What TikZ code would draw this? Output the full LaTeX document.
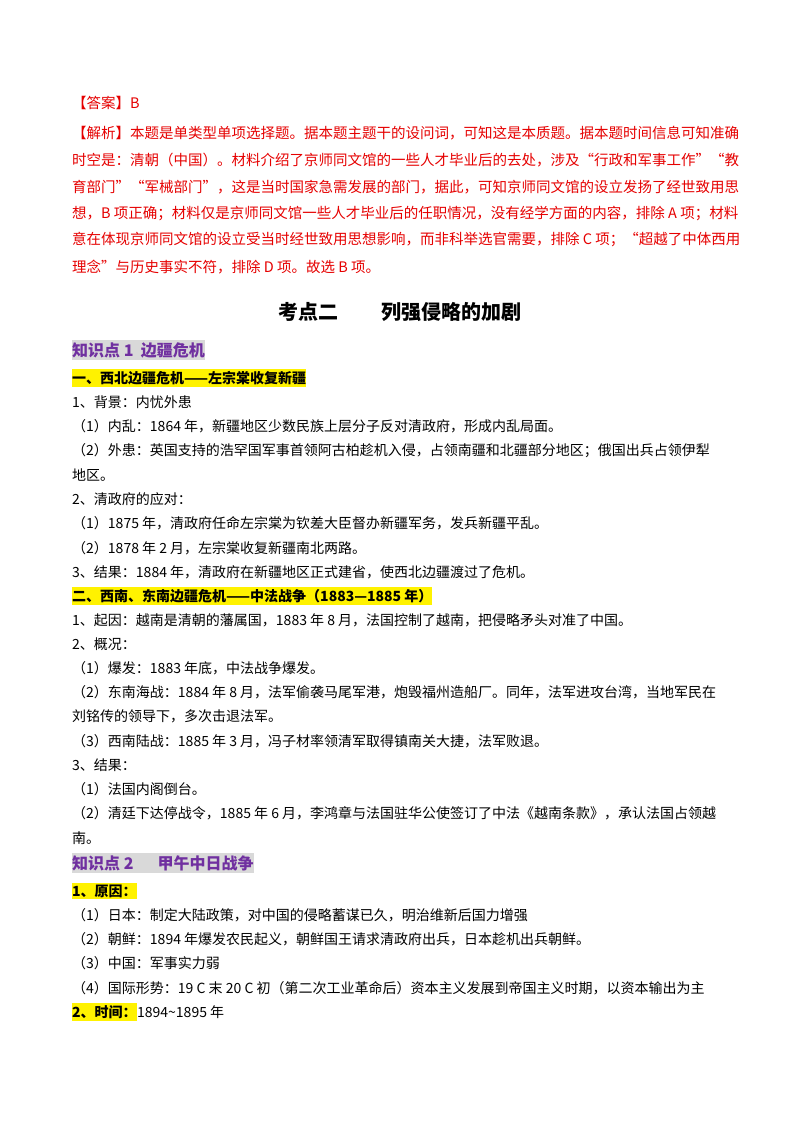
\documentclass[tikz,border=0pt]{standalone}
\usepackage{fontspec}
\setmainfont{Noto Sans CJK SC}
\definecolor{ansred}{RGB}{230,0,0}
\definecolor{kpurple}{RGB}{112,48,160}
\definecolor{kgray}{RGB}{217,217,217}
\begin{document}
\begin{tikzpicture}[x=1pt,y=-1pt,
  ln/.style={anchor=west,inner sep=0pt,font=\fontsize{14}{14}\selectfont},
  red/.style={ln,text=ansred,font=\fontsize{14.5}{14.5}\selectfont},
  yel/.style={ln,fill=yellow,inner ysep=2pt,font=\fontsize{14}{14}\selectfont\bfseries},
  kp/.style={ln,fill=kgray,text=kpurple,inner ysep=2pt,font=\fontsize{16}{16}\selectfont\bfseries}]
\useasboundingbox[fill=white] (0,0) rectangle (800,1132);
\node[red] (a0) at (72,103) {【答案】B};
\node[red] (a1) at (72,133) {【解析】本题是单类型单项选择题。据本题主题干的设问词，可知这是本质题。据本题时间信息可知准确};
\node[red] (a2) at (72,160) {时空是：清朝（中国）。材料介绍了京师同文馆的一些人才毕业后的去处，涉及“行政和军事工作”“教};
\node[red] (a3) at (72,187) {育部门”“军械部门”，这是当时国家急需发展的部门，据此，可知京师同文馆的设立发扬了经世致用思};
\node[red] (a4) at (72,214) {想，B 项正确；材料仅是京师同文馆一些人才毕业后的任职情况，没有经学方面的内容，排除 A 项；材料};
\node[red] (a5) at (72,240) {意在体现京师同文馆的设立受当时经世致用思想影响，而非科举选官需要，排除 C 项；“超越了中体西用};
\node[red] (a6) at (72,267) {理念”与历史事实不符，排除 D 项。故选 B 项。};
\node[inner sep=0pt,font=\fontsize{20}{20}\selectfont\bfseries] (t) at (400,312) {考点二\hspace{2.2em}列强侵略的加剧};
\node[kp] (k1) at (72,350) {知识点 1\ \ 边疆危机};
\node[yel] (h1) at (72,378) {一、西北边疆危机——左宗棠收复新疆};
\node[ln] (l1) at (72,402) {1、背景：内忧外患};
\node[ln] (l2) at (72,426) {（1）内乱：1864 年，新疆地区少数民族上层分子反对清政府，形成内乱局面。};
\node[ln] (l3) at (72,451) {（2）外患：英国支持的浩罕国军事首领阿古柏趁机入侵，占领南疆和北疆部分地区；俄国出兵占领伊犁};
\node[ln] (l4) at (72,475) {地区。};
\node[ln] (l5) at (72,499) {2、清政府的应对：};
\node[ln] (l6) at (72,523) {（1）1875 年，清政府任命左宗棠为钦差大臣督办新疆军务，发兵新疆平乱。};
\node[ln] (l7) at (72,548) {（2）1878 年 2 月，左宗棠收复新疆南北两路。};
\node[ln] (l8) at (72,572) {3、结果：1884 年，清政府在新疆地区正式建省，使西北边疆渡过了危机。};
\node[yel] (h2) at (72,596) {二、西南、东南边疆危机——中法战争（1883—1885 年）};
\node[ln] (m1) at (72,620) {1、起因：越南是清朝的藩属国，1883 年 8 月，法国控制了越南，把侵略矛头对准了中国。};
\node[ln] (m2) at (72,644) {2、概况：};
\node[ln] (m3) at (72,668) {（1）爆发：1883 年底，中法战争爆发。};
\node[ln] (m4) at (72,692) {（2）东南海战：1884 年 8 月，法军偷袭马尾军港，炮毁福州造船厂。同年，法军进攻台湾，当地军民在};
\node[ln] (m5) at (72,716) {刘铭传的领导下，多次击退法军。};
\node[ln] (m6) at (72,741) {（3）西南陆战：1885 年 3 月，冯子材率领清军取得镇南关大捷，法军败退。};
\node[ln] (m7) at (72,765) {3、结果：};
\node[ln] (m8) at (72,789) {（1）法国内阁倒台。};
\node[ln] (m9) at (72,813) {（2）清廷下达停战令，1885 年 6 月，李鸿章与法国驻华公使签订了中法《越南条款》，承认法国占领越};
\node[ln] (m10) at (72,838) {南。};
\node[kp] (k2) at (72,863) {知识点 2\hspace{1.5em}甲午中日战争};
\node[yel] (h3) at (72,891) {1、原因：};
\node[ln] (n1) at (72,915) {（1）日本：制定大陆政策，对中国的侵略蓄谋已久，明治维新后国力增强};
\node[ln] (n2) at (72,939) {（2）朝鲜：1894 年爆发农民起义，朝鲜国王请求清政府出兵，日本趁机出兵朝鲜。};
\node[ln] (n3) at (72,963) {（3）中国：军事实力弱};
\node[ln] (n4) at (72,988) {（4）国际形势：19 C 末 20 C 初（第二次工业革命后）资本主义发展到帝国主义时期，以资本输出为主};
\node[yel] (h4) at (72,1012) {2、时间：};
\node[ln,anchor=west] (n5) at (h4.east) {1894\textasciitilde 1895 年};
\end{tikzpicture}
\end{document}
